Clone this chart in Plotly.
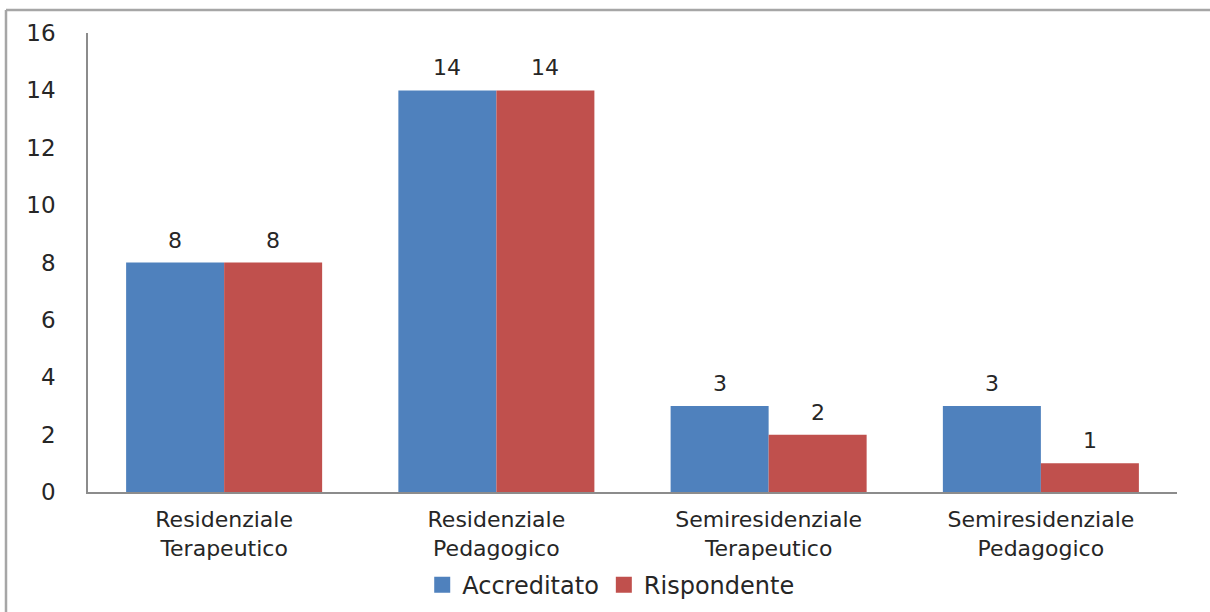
import plotly.graph_objects as go

# Strutture per tipologia
categories = [
    "Residenziale<br>Terapeutico",
    "Residenziale<br>Pedagogico",
    "Semiresidenziale<br>Terapeutico",
    "Semiresidenziale<br>Pedagogico",
]
accreditato = [8, 14, 3, 3]
rispondente = [8, 14, 2, 1]
y_ticks = [0, 2, 4, 6, 8, 10, 12, 14, 16]

FONT = "DejaVu Sans"
TEXT = "#262626"
BLUE = "#4F81BD"
RED = "#C0504D"
FS = 23

fig = go.Figure()
fig.add_trace(go.Bar(
    name="Accreditato", x=categories, y=accreditato,
    marker=dict(color=BLUE, line=dict(width=0)), showlegend=False,
))
fig.add_trace(go.Bar(
    name="Rispondente", x=categories, y=rispondente,
    marker=dict(color=RED, line=dict(width=0)), showlegend=False,
))
# legend entries with larger square swatches
for name, color in [("Accreditato", BLUE), ("Rispondente", RED)]:
    fig.add_trace(go.Scatter(
        x=[None], y=[None], mode="markers", name=name,
        marker=dict(symbol="square", size=16, color=color),
    ))

# value labels above each bar
annotations = []
for vals, shift in [(accreditato, -49), (rispondente, 49)]:
    for cat, v in zip(categories, vals):
        annotations.append(dict(
            x=cat, y=v, xref="x", yref="y", text=str(v), showarrow=False,
            xshift=shift, yshift=8, yanchor="bottom",
            font=dict(family=FONT, size=22, color=TEXT),
        ))

fig.update_layout(
    width=1210, height=612,
    margin=dict(l=88, r=33, t=33, b=120, autoexpand=False),
    paper_bgcolor="white", plot_bgcolor="white",
    barmode="group", bargap=0.28, bargroupgap=0,
    font=dict(family=FONT, size=FS, color=TEXT),
    showlegend=True,
    legend=dict(
        orientation="h", x=0.48, xanchor="center", y=-0.203, yanchor="middle",
        font=dict(family=FONT, size=24, color=TEXT),
        bgcolor="rgba(0,0,0,0)",
        itemwidth=30, traceorder="normal",
    ),
    xaxis=dict(
        showline=True, linecolor="#8c8c8c", linewidth=1.5,
        showgrid=False, ticks="", ticklabelstandoff=7, automargin=False,
        tickfont=dict(family=FONT, size=22, color=TEXT),
    ),
    yaxis=dict(
        range=[0, 16], tickvals=y_ticks, showline=True, linecolor="#8c8c8c",
        linewidth=1.5, showgrid=False, zeroline=False, ticks="",
        ticklabelstandoff=26, automargin=False,
        tickfont=dict(family=FONT, size=FS, color=TEXT),
    ),
    annotations=annotations,
    shapes=[
        # frame around the chart (top and left edges)
        dict(type="line", xref="paper", yref="paper",
             x0=-0.0753, x1=1.04, y0=1.050, y1=1.050,
             line=dict(color="#a6a6a6", width=2.5)),
        dict(type="line", xref="paper", yref="paper",
             x0=-0.0753, x1=-0.0753, y0=1.050, y1=-0.27,
             line=dict(color="#a6a6a6", width=2.5)),
    ],
)

fig.write_html("out.html")
